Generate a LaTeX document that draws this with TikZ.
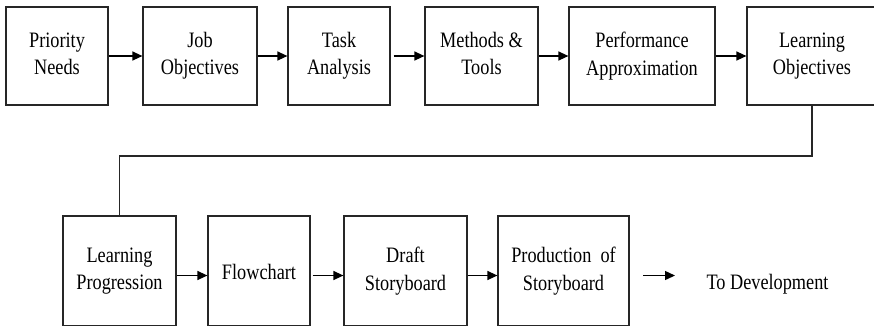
\documentclass[tikz,border=0pt]{standalone}
\usepackage{fontspec}
\setmainfont{Liberation Serif}
\usetikzlibrary{arrows.meta}
% narrow the lettering horizontally
\newcommand\nw[1]{\scalebox{0.83}[1]{#1}}
\begin{document}
\begin{tikzpicture}[x=1pt,y=-1pt,
  words/.style={align=center, inner sep=0pt,
    font=\fontsize{22}{27.5}\selectfont,
    execute at begin node={\rule{0pt}{22.3pt}},
    execute at end node={\rule[-4.8pt]{0pt}{0pt}}},
  box/.style={words, draw=black!85, line width=1.2pt},
  toprow/.style={box, minimum height=98pt},
  botrow/.style={box, minimum height=110pt},
  flow/.style={line width=1.3pt, -{Triangle[length=10pt,width=9pt]}},
  link/.style={line width=1.2pt, draw=black!85}]
\useasboundingbox (0,0) rectangle (874,325);
\clip (0,0) rectangle (874,325);

% first row
\node[toprow, minimum width=102pt] (pn) at (57,56)    {\nw{Priority}\\\nw{Needs}};
\node[toprow, minimum width=114pt] (jo) at (200,56)   {\nw{Job}\\\nw{Objectives}};
\node[toprow, minimum width=102pt] (ta) at (339,56)   {\nw{Task}\\\nw{Analysis}};
\node[toprow, minimum width=113pt] (mt) at (481.5,56) {\nw{Methods \&}\\\nw{Tools}};
\node[toprow, minimum width=146pt] (pa) at (642,56)   {\nw{Performance}\\\nw{Approximation}};
\node[toprow, minimum width=130pt] (lo) at (812,56)   {\nw{Learning}\\\nw{Objectives}};

% second row
\node[botrow, minimum width=113pt] (lp) at (119.5,271) {\nw{Learning}\\\nw{Progression}};
\node[botrow, minimum width=102pt] (fc) at (259,271)   {\nw{Flowchart}};
\node[botrow, minimum width=123pt] (ds) at (405.5,271) {\nw{Draft}\\\nw{Storyboard}};
\node[botrow, minimum width=131pt] (ps) at (563.5,271) {\nw{Production~~of}\\\nw{Storyboard}};

\node[words] (dev) at (767.5,280.5) {\nw{To Development}};
\coordinate (devA) at (643,275.5);
\coordinate (devB) at (675,275.5);

% arrows along the first row
\draw[flow] (pn) -- (jo);
\draw[flow] (jo) -- (ta);
\draw[flow] ([xshift=3pt]ta.east) -- (mt);
\draw[flow] (mt) -- (pa);
\draw[flow] (pa) -- (lo);

% return line down to the second row
\draw[link] (lo.south) -- (812,156) -- (lp.north |- 0,156) -- (lp.north);

% arrows along the second row
\draw[flow] (lp.east |- devA) -- (fc.west |- devA);
\draw[flow] ([xshift=2pt]fc.east |- devA) -- (ds.west |- devA);
\draw[flow] (ds.east |- devA) -- (ps.west |- devA);
\draw[flow] (devA) -- (devB);
\end{tikzpicture}
\end{document}
